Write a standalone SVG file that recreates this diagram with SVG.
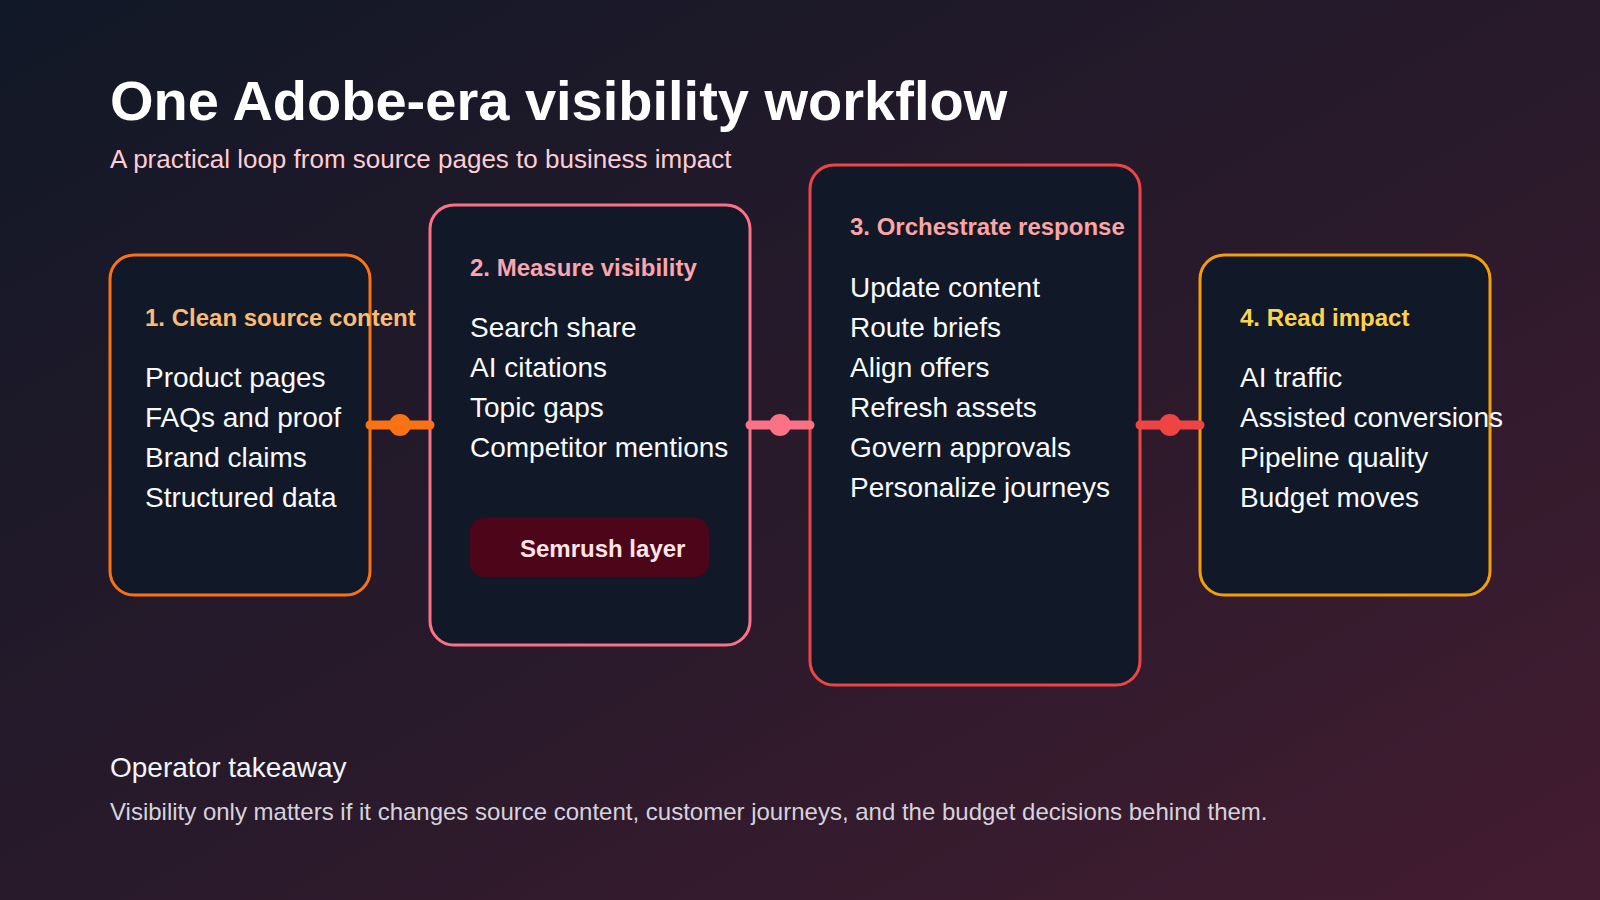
<svg xmlns="http://www.w3.org/2000/svg" width="1600" height="900" viewBox="0 0 1600 900">
  <defs>
    <linearGradient id="bg" x1="0" y1="0" x2="1" y2="1">
      <stop offset="0" stop-color="#111827"/>
      <stop offset="0.55" stop-color="#2a1a2b"/>
      <stop offset="1" stop-color="#441c31"/>
    </linearGradient>
    <style>
      .card { fill: #111827; stroke-width: 3; }
      .ttl { font-family: "Liberation Sans", Arial, sans-serif; font-weight: 700; font-size: 24px; }
      .item { font-family: "Liberation Sans", Arial, sans-serif; font-size: 28px; fill: #f8fafc; }
      .conn { stroke-width: 9; stroke-linecap: round; fill: none; }
    </style>
  </defs>
  <rect x="0" y="0" width="1600" height="900" fill="url(#bg)"/>

  <text x="110" y="120" font-family="Liberation Sans, Arial, sans-serif" font-weight="700" font-size="56" fill="#ffffff">One Adobe-era visibility workflow</text>
  <text x="110" y="168" font-family="Liberation Sans, Arial, sans-serif" font-size="26" fill="#fecdd3">A practical loop from source pages to business impact</text>

  <g id="node1">
    <rect class="card" x="110" y="255" width="260" height="340" rx="24" stroke="#f97316"/>
    <text class="ttl" x="145" y="326" fill="#fdba74">1. Clean source content</text>
    <text class="item" x="145" y="387">Product pages</text>
    <text class="item" x="145" y="427">FAQs and proof</text>
    <text class="item" x="145" y="467">Brand claims</text>
    <text class="item" x="145" y="507">Structured data</text>
  </g>

  <g id="node2">
    <rect class="card" x="430" y="205" width="320" height="440" rx="24" stroke="#fb7185"/>
    <text class="ttl" x="470" y="276" fill="#fda4af">2. Measure visibility</text>
    <text class="item" x="470" y="337">Search share</text>
    <text class="item" x="470" y="377">AI citations</text>
    <text class="item" x="470" y="417">Topic gaps</text>
    <text class="item" x="470" y="457">Competitor mentions</text>
    <g id="semrush">
      <rect x="470" y="518" width="239" height="59" rx="14" fill="#4c0519"/>
      <text class="ttl" x="520" y="557" fill="#ffe4e6">Semrush layer</text>
    </g>
  </g>

  <g id="node3">
    <rect class="card" x="810" y="165" width="330" height="520" rx="24" stroke="#ef4444"/>
    <text class="ttl" x="850" y="235" fill="#fca5a5">3. Orchestrate response</text>
    <text class="item" x="850" y="297">Update content</text>
    <text class="item" x="850" y="337">Route briefs</text>
    <text class="item" x="850" y="377">Align offers</text>
    <text class="item" x="850" y="417">Refresh assets</text>
    <text class="item" x="850" y="457">Govern approvals</text>
    <text class="item" x="850" y="497">Personalize journeys</text>
  </g>

  <g id="node4">
    <rect class="card" x="1200" y="255" width="290" height="340" rx="24" stroke="#f59e0b"/>
    <text class="ttl" x="1240" y="326" fill="#fcd34d">4. Read impact</text>
    <text class="item" x="1240" y="387">AI traffic</text>
    <text class="item" x="1240" y="427">Assisted conversions</text>
    <text class="item" x="1240" y="467">Pipeline quality</text>
    <text class="item" x="1240" y="507">Budget moves</text>
  </g>

  <g id="connectors">
    <line class="conn" x1="370" y1="425" x2="430" y2="425" stroke="#f97316"/>
    <circle cx="400" cy="425" r="11" fill="#f97316"/>
    <line class="conn" x1="750" y1="425" x2="810" y2="425" stroke="#fb7185"/>
    <circle cx="780" cy="425" r="11" fill="#fb7185"/>
    <line class="conn" x1="1140" y1="425" x2="1200" y2="425" stroke="#ef4444"/>
    <circle cx="1170" cy="425" r="11" fill="#ef4444"/>
  </g>

  <text x="110" y="777" font-family="Liberation Sans, Arial, sans-serif" font-size="28" fill="#f1f5f9">Operator takeaway</text>
  <text x="110" y="820" font-family="Liberation Sans, Arial, sans-serif" font-size="24" fill="#d6d3dc">Visibility only matters if it changes source content, customer journeys, and the budget decisions behind them.</text>
</svg>
